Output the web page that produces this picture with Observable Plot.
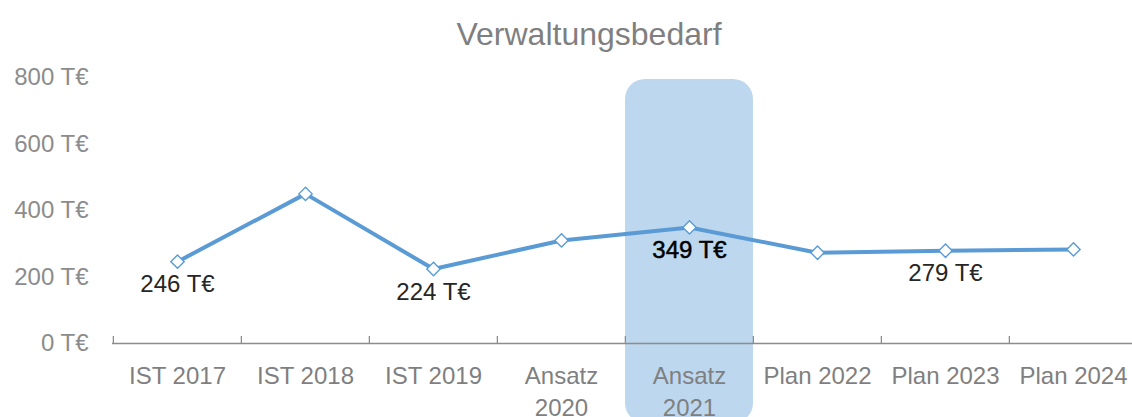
<!DOCTYPE html>
<html><head><meta charset="utf-8">
<script src="https://cdn.jsdelivr.net/npm/d3@7"></script>
<script src="https://cdn.jsdelivr.net/npm/@observablehq/plot@0.6"></script>
<style>
html,body{margin:0;padding:0;background:#fff;overflow:hidden}
#title{position:relative;height:60px;width:1132px}
#title span{position:absolute;left:0;width:1178px;text-align:center;top:18px;font-size:32px;font-family:"Liberation Sans",Arial,sans-serif;line-height:1;color:#7f7f7f}
#chart svg{overflow:visible}
</style></head><body>
<div id="title"><span>Verwaltungsbedarf</span></div>
<div id="chart"></div>
<script>
const categories = ["IST 2017","IST 2018","IST 2019","Ansatz\n2020","Ansatz\n2021","Plan 2022","Plan 2023","Plan 2024"];
const values = [246,450,224,310,349,273,279,283];
const labeled = ["IST 2017","IST 2019","Ansatz\n2021","Plan 2023"];
const highlighted = "Ansatz\n2021";
const yTicks = [0,200,400,600,800];

const W = 1132, H = 357;
const x0 = 112, x1 = 1138;
const bw = (x1 - x0) / categories.length;
const data = categories.map((c, i) => ({c, v: values[i]}));
const lab = data.filter(d => labeled.includes(d.c));
const font = '"Liberation Sans", Arial, sans-serif';

const plot = Plot.plot({
  width: W, height: H,
  marginTop: 17, marginBottom: 74, marginLeft: 112, marginRight: 0,
  style: {fontFamily: font, background: "transparent", overflow: "visible"},
  x: {domain: categories, range: [x0, x1], padding: 0},
  y: {domain: [0, 800], range: [283, 17]},
  marks: [
    Plot.barY([highlighted], {x: d => d, y1: 0, y2: 800, fill: "#bdd7ee", rx: 20, insetTop: 2, insetBottom: -80}),
    Plot.ruleY([0], {stroke: "#8c8c8c", strokeWidth: 1.3}),
    Plot.ruleX(categories, {x: d => d, y1: 0, y2: 0, dx: -bw / 2, insetTop: -7, stroke: "#8c8c8c", strokeWidth: 1.3}),
    Plot.line(data, {x: "c", y: "v", stroke: "#5b9bd5", strokeWidth: 4}),
    Plot.dot(data, {x: "c", y: "v", symbol: "diamond2", r: 6, fill: "white", stroke: "#5b9bd5", strokeWidth: 1.4}),
    Plot.text(lab.filter(d => d.c !== highlighted), {x: "c", y: "v", text: d => d.v + " T€", dy: 23, fontSize: 24, fill: "#262626"}),
    Plot.text(lab.filter(d => d.c === highlighted), {x: "c", y: "v", text: d => d.v + " T€", dy: 23, fontSize: 24, fill: "#000", stroke: "#000", strokeWidth: 0.5}),
    Plot.axisX({tickSize: 0, tickPadding: 18, fontSize: 24, lineHeight: 1.33, color: "#7f7f7f", label: null}),
    Plot.axisY({ticks: yTicks, tickSize: 0, tickPadding: 24, fontSize: 24, color: "#8c8c8c", tickFormat: d => d + " T€", label: null})
  ]
});
document.getElementById("chart").appendChild(plot);
</script>
</body></html>
